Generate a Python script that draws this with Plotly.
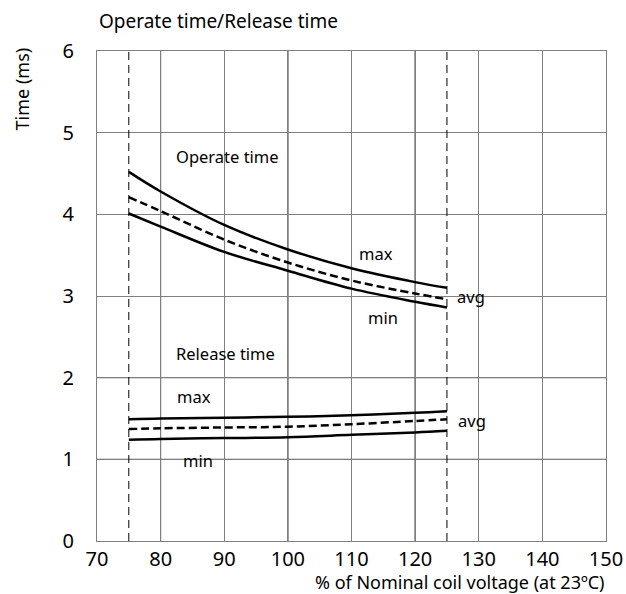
import plotly.graph_objects as go

x_pts = [75, 80, 90, 100, 110, 120, 125]
op_max = [4.52, 4.28, 3.87, 3.57, 3.34, 3.17, 3.10]
op_avg = [4.21, 4.04, 3.69, 3.41, 3.19, 3.03, 2.96]
op_min = [4.01, 3.85, 3.54, 3.31, 3.09, 2.93, 2.86]
rel_max = [1.49, 1.50, 1.51, 1.52, 1.54, 1.57, 1.59]
rel_avg = [1.37, 1.38, 1.39, 1.40, 1.43, 1.47, 1.49]
rel_min = [1.24, 1.25, 1.26, 1.27, 1.30, 1.33, 1.35]
x_ticks = [70, 80, 90, 100, 110, 120, 130, 140, 150]
y_ticks = [0, 1, 2, 3, 4, 5, 6]
limits = [75, 125]
dark_x = [80, 100, 120]
dark_y = [1, 2]

FONT = "Noto Sans"
fig = go.Figure()

for xv in dark_x:
    fig.add_shape(type="line", xref="x", yref="paper", x0=xv, x1=xv, y0=0, y1=1,
                  line=dict(color="black", width=1), layer="below")
for yv in dark_y:
    fig.add_shape(type="line", xref="paper", yref="y", x0=0, x1=1, y0=yv, y1=yv,
                  line=dict(color="black", width=1), layer="below")

for xv in limits:
    fig.add_trace(go.Scatter(x=[xv, xv], y=[0, 6], mode="lines",
                             line=dict(color="black", width=1, dash="8px,5px"),
                             hoverinfo="skip", showlegend=False))

for ys, dash in [(op_max, "solid"), (op_avg, "8px,4px"), (op_min, "solid"),
                 (rel_max, "solid"), (rel_avg, "8px,4px"), (rel_min, "solid")]:
    fig.add_trace(go.Scatter(x=x_pts, y=ys, mode="lines",
                             line=dict(color="black", width=2.5, dash=dash, shape="spline", smoothing=1.0),
                             showlegend=False))

labels = [
    (82.1, 4.71, "Operate time", "left"),
    (113.9, 3.52, "max", "center"),
    (115.0, 2.74, "min", "center"),
    (126.2, 2.99, "avg", "left"),
    (82.1, 2.30, "Release time", "left"),
    (85.3, 1.77, "max", "center"),
    (85.9, 0.99, "min", "center"),
    (126.4, 1.48, "avg", "left"),
]
for x, y, t, a in labels:
    fig.add_annotation(x=x, y=y, text=t, showarrow=False, xanchor=a, yanchor="middle",
                       font=dict(family=FONT, size=16.5, color="black"))

fig.add_annotation(x=0, y=1, xref="paper", yref="paper", text="Operate time/Release time",
                   showarrow=False, xanchor="left", yanchor="middle", yshift=30,
                   font=dict(family=FONT, size=19, color="black"))
fig.add_annotation(x=-0.147, y=0.922, xref="paper", yref="paper", text="Time (ms)", showarrow=False,
                   textangle=-90, xanchor="center", yanchor="middle",
                   font=dict(family=FONT, size=18, color="black"))
fig.add_annotation(x=1, y=0, xref="paper", yref="paper", text="% of Nominal coil voltage (at 23ºC)",
                   showarrow=False, xanchor="right", yanchor="middle", yshift=-41,
                   font=dict(family=FONT, size=18, color="black"))

fig.update_xaxes(range=[70, 150], tickvals=x_ticks, showgrid=True, gridcolor="#808080", gridwidth=1,
                 showline=True, linecolor="#808080", linewidth=1, mirror=True, zeroline=False,
                 ticks="", tickfont=dict(family=FONT, size=20, color="black"), ticklabelstandoff=0,
                 automargin=False)
fig.update_yaxes(range=[0, 6], tickvals=y_ticks, showgrid=True, gridcolor="#808080", gridwidth=1,
                 showline=True, linecolor="#808080", linewidth=1, mirror=True, zeroline=False,
                 ticks="", tickfont=dict(family=FONT, size=20, color="black"), ticklabelstandoff=18,
                 automargin=False)

fig.update_layout(width=626, height=594, margin=dict(l=97, r=20, t=51, b=53),
                  plot_bgcolor="white", paper_bgcolor="white", showlegend=False,
                  font=dict(family=FONT, color="black"))
fig.write_html("out.html", config={"displayModeBar": False},
               post_script="document.body.style.margin='0';document.body.style.overflow='hidden';")
